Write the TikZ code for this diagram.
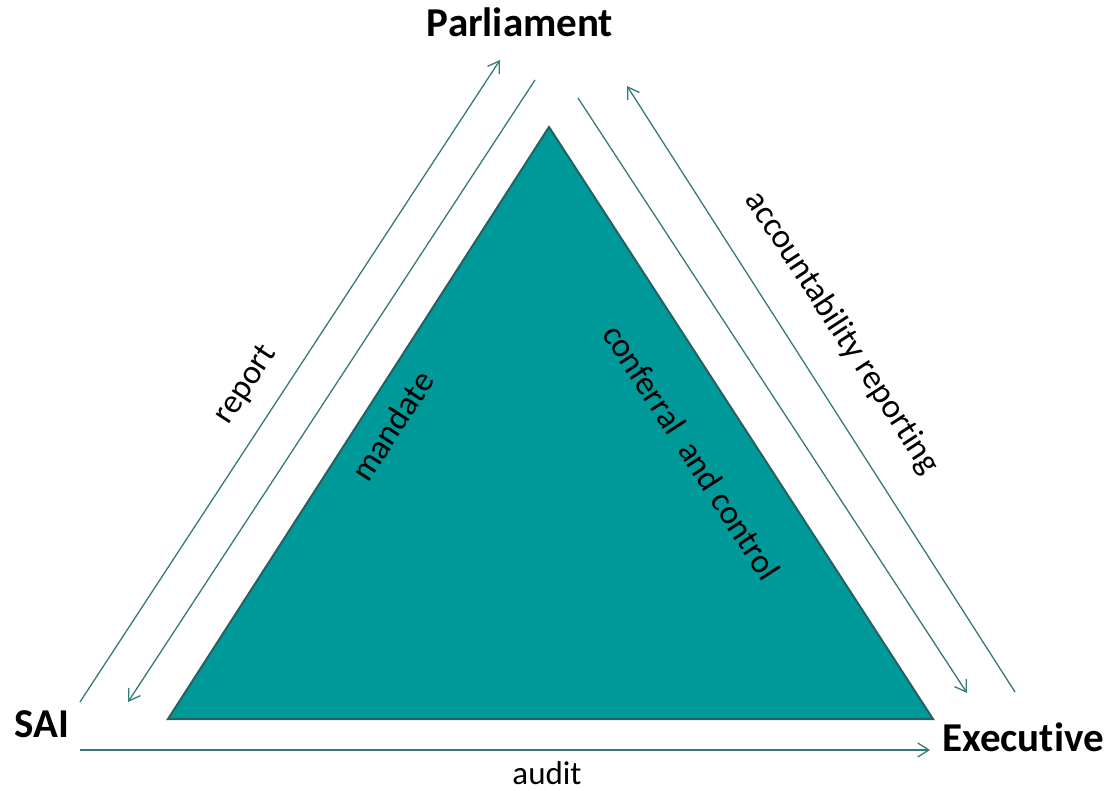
\documentclass[tikz,border=0pt]{standalone}
\usepackage{fontspec}
\setmainfont{Carlito}[Ligatures=NoCommon]
\usetikzlibrary{arrows.meta}

\definecolor{triteal}{RGB}{0,153,153}
\definecolor{triedge}{RGB}{38,96,96}
\definecolor{flowteal}{RGB}{52,122,122}

\tikzset{
  actor/.style={font=\fontsize{41}{45}\selectfont\bfseries, inner sep=0pt},
  flowlabel/.style={font=\fontsize{34}{38}\selectfont, inner sep=0pt},
  flow/.style={draw=flowteal, line width=1.3pt, -{Straight Barb[length=11pt,width=14pt,line width=1.3pt]}}
}

\begin{document}
\begin{tikzpicture}[x=1pt,y=-1pt]
\useasboundingbox (0,0) rectangle (1107,791);
\node[actor] (parl) at (520,22) {Parliament};
\node[actor] (sai) at (42,724) {SAI};
\node[actor] (exec) at (1023,737) {Executive};
\filldraw[fill=triteal, draw=triedge, line width=2pt, line join=miter] (549,127) -- (168,719) -- (933,719) -- cycle;
\coordinate (rep-s) at (80,702);
\coordinate (rep-e) at (500,60);
\coordinate (man-s) at (535,80);
\coordinate (man-e) at (128,702);
\coordinate (con-s) at (578,98);
\coordinate (con-e) at (967,693);
\coordinate (acc-s) at (1015,692);
\coordinate (acc-e) at (627,86);
\coordinate (aud-s) at (80,750);
\coordinate (aud-e) at (930,750);
\draw[flow] (rep-s) -- (rep-e);
\draw[flow] (man-s) -- (man-e);
\draw[flow] (con-s) -- (con-e);
\draw[flow] (acc-s) -- (acc-e);
\draw[flow] (aud-s) -- (aud-e);
\node[flowlabel, rotate=57] (report) at (246,385) {report};
\node[flowlabel, rotate=57] (mandate) at (392,426) {mandate};
\node[flowlabel, rotate=-57] (conferral) at (692,452) {conferral\ \ and control};
\node[flowlabel, rotate=-57] (accrep) at (842,333) {accountability reporting};
\node[flowlabel, font=\fontsize{33}{36}\selectfont, anchor=base] (audit) at (547,784) {audit};
\end{tikzpicture}
\end{document}
